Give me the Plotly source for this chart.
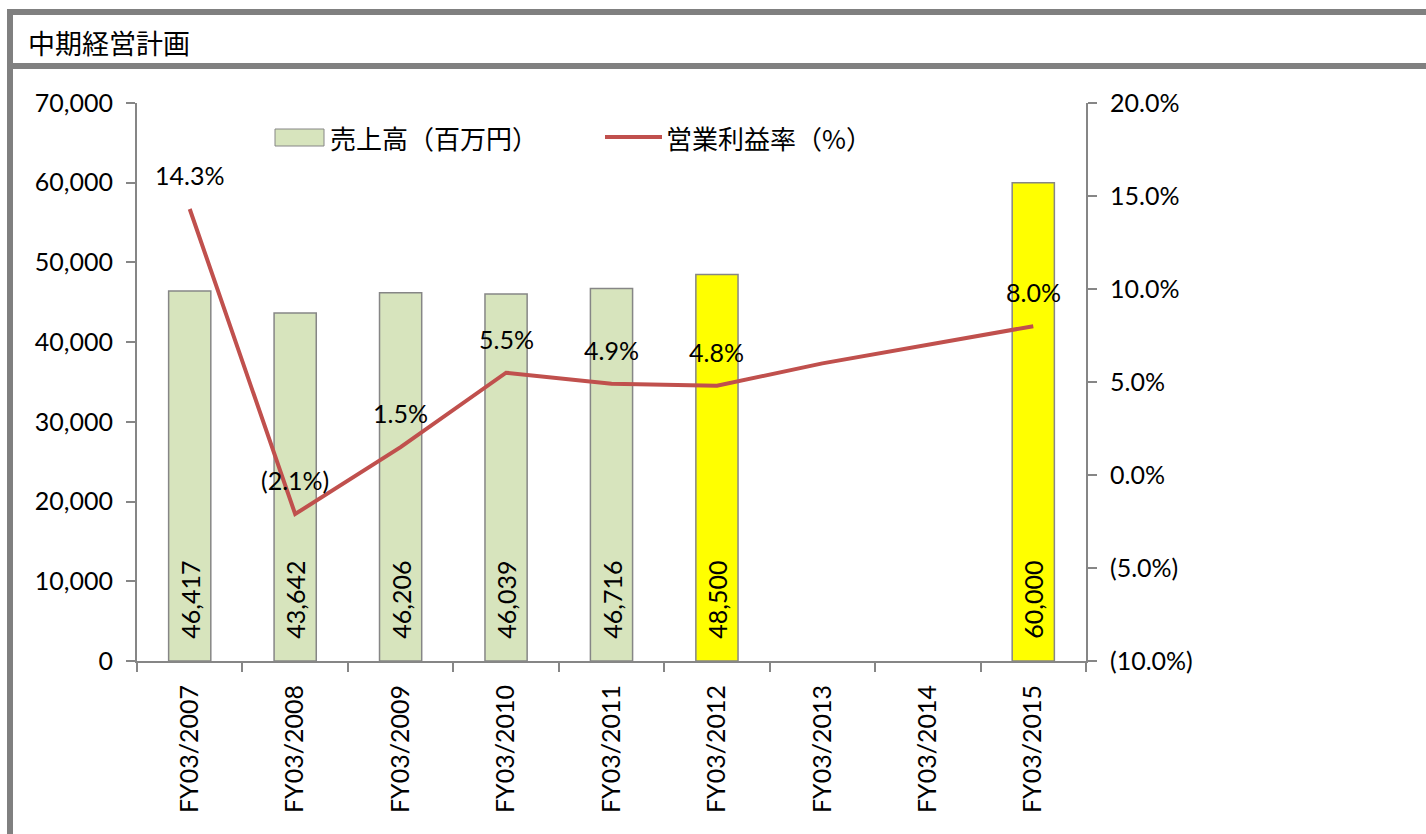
import plotly.graph_objects as go

categories = ["FY03/2007", "FY03/2008", "FY03/2009", "FY03/2010", "FY03/2011",
              "FY03/2012", "FY03/2013", "FY03/2014", "FY03/2015"]
sales = [46417, 43642, 46206, 46039, 46716, 48500, None, None, 60000]
sales_text = ["46,417", "43,642", "46,206", "46,039", "46,716", "48,500", "", "", "60,000"]
bar_colors = ["#D7E4BD"] * 5 + ["#FFFF00", "#FFFF00", "#FFFF00", "#FFFF00"]
margin = [14.3, -2.1, 1.5, 5.5, 4.9, 4.8, 6.0, 7.0, 8.0]
margin_labels = ["14.3%", "(2.1%)", "1.5%", "5.5%", "4.9%", "4.8%", "", "", "8.0%"]
right_tickvals = [-10, -5, 0, 5, 10, 15, 20]
right_ticktext = ["(10.0%)", "(5.0%)", "0.0%", "5.0%", "10.0%", "15.0%", "20.0%"]
left_tickvals = [0, 10000, 20000, 30000, 40000, 50000, 60000, 70000]
left_ticktext = ["0", "10,000", "20,000", "30,000", "40,000", "50,000", "60,000", "70,000"]
title_text = "中期経営計画"
legend_bar = "売上高（百万円）"
legend_line = "営業利益率（%）"

W, H = 1426, 834
L, R, T, B = 137, 1086, 103, 661
FONT = "Lato, 'Noto Sans CJK JP', sans-serif"
CJK = "'Noto Sans CJK JP', sans-serif"
GRAY = "#868686"
PAD = "\u00a0\u00a0\u00a0"


def px(x):
    return (x - L) / (R - L)


def py(y):
    return (B - y) / (B - T)


fig = go.Figure()
fig.add_trace(go.Bar(
    x=categories, y=sales, width=0.4,
    marker=dict(color=bar_colors, line=dict(color=GRAY, width=1.5)),
    text=[PAD + t if t else "" for t in sales_text],
    textposition="inside", insidetextanchor="start",
    textangle=-90, constraintext="none",
    textfont=dict(family=FONT, size=25, color="black"),
    showlegend=False, cliponaxis=False,
))
fig.add_trace(go.Scatter(
    x=categories, y=margin, yaxis="y2", mode="lines",
    line=dict(color="#C0504D", width=4), showlegend=False,
))

annotations = []
for c, v, t in zip(categories, margin, margin_labels):
    if t:
        annotations.append(dict(x=c, y=v, xref="x", yref="y2", text=t, showarrow=False,
                                yshift=34, font=dict(family=FONT, size=25, color="black")))

annotations.append(dict(x=px(26), y=py(42), xref="paper", yref="paper", text=title_text,
                        showarrow=False, xanchor="left", yanchor="middle",
                        font=dict(family=CJK, size=27, color="black")))
annotations.append(dict(x=px(328), y=py(137), xref="paper", yref="paper", text=legend_bar,
                        showarrow=False, xanchor="left", yanchor="middle",
                        font=dict(family=CJK, size=26, color="black")))
annotations.append(dict(x=px(664), y=py(137), xref="paper", yref="paper", text=legend_line,
                        showarrow=False, xanchor="left", yanchor="middle",
                        font=dict(family=CJK, size=26, color="black")))

shapes = [
    # frame
    dict(type="rect", xref="paper", yref="paper", x0=px(7), x1=px(1440), y0=py(9), y1=py(15),
         fillcolor="#808080", line=dict(width=0), layer="above"),
    dict(type="rect", xref="paper", yref="paper", x0=px(7), x1=px(13), y0=py(9), y1=py(850),
         fillcolor="#808080", line=dict(width=0), layer="above"),
    dict(type="rect", xref="paper", yref="paper", x0=px(13), x1=px(1440), y0=py(63), y1=py(69),
         fillcolor="#808080", line=dict(width=0), layer="above"),
    # legend swatches
    dict(type="rect", xref="paper", yref="paper", x0=px(275), x1=px(324), y0=py(146), y1=py(129),
         fillcolor="#D7E4BD", line=dict(color=GRAY, width=1), layer="above"),
    dict(type="line", xref="paper", yref="paper", x0=px(605), x1=px(662), y0=py(137), y1=py(137),
         line=dict(color="#C0504D", width=4), layer="above"),
]

fig.update_layout(
    width=W, height=H,
    margin=dict(l=L, r=W - R, t=T, b=H - B, pad=0),
    paper_bgcolor="white", plot_bgcolor="white",
    font=dict(family=FONT, size=25, color="black"),
    bargap=0.6,
    xaxis=dict(type="category", showline=True, linecolor=GRAY, linewidth=2,
               ticks="outside", tickson="boundaries", ticklen=9, tickcolor=GRAY, tickwidth=2,
               tickangle=-90, showgrid=False, range=[-0.5, 8.5], ticklabelstandoff=12,
               tickfont=dict(family=FONT, size=25, color="black")),
    yaxis=dict(range=[0, 70000], tickvals=left_tickvals, ticktext=left_ticktext,
               showline=True, linecolor=GRAY, linewidth=2, ticks="outside", ticklen=9,
               tickcolor=GRAY, tickwidth=2, showgrid=False, zeroline=False,
               ticklabelstandoff=8,
               tickfont=dict(family=FONT, size=25, color="black")),
    yaxis2=dict(range=[-10, 20], tickvals=right_tickvals, ticktext=right_ticktext,
                overlaying="y", side="right", showline=True, linecolor=GRAY, linewidth=2,
                ticks="outside", ticklen=9, tickcolor=GRAY, tickwidth=2, showgrid=False,
                zeroline=False, ticklabelstandoff=8,
                tickfont=dict(family=FONT, size=25, color="black")),
    annotations=annotations,
    shapes=shapes,
)

fig.write_html("out.html")
